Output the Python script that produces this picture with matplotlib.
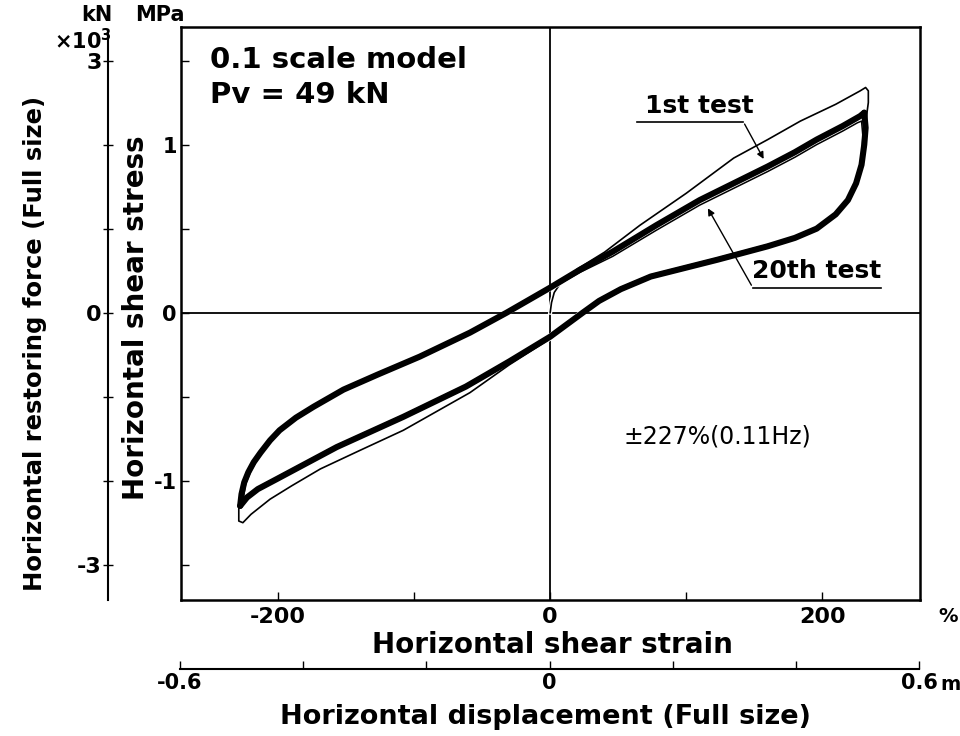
import matplotlib
matplotlib.use('Agg')
import matplotlib.pyplot as plt
import matplotlib.patheffects as pe

# ---------------- data (strain %, shear stress MPa) ----------------
# cycles forming the thick band (2nd ... 19th test)
band_up_strain = [-228, -227, -225, -222, -218, -213, -206, -199, -187, -174, -152, -127, -96, -59, -32, 0, 22, 46, 78, 110, 135, 160, 180, 196, 215, 228, 231]
band_up_stress = [-1.15, -1.08, -1.01, -0.95, -0.89, -0.833, -0.76, -0.70, -0.625, -0.56, -0.458, -0.369, -0.262, -0.119, 0.0, 0.149, 0.256, 0.363, 0.52, 0.67, 0.77, 0.87, 0.955, 1.03, 1.11, 1.17, 1.19]
band_lo_strain = [231, 232, 231, 229, 225, 219, 210, 196, 180, 160, 123, 74, 52, 36, 24, 0, -30, -62, -108, -157, -201, -215, -223, -228]
band_lo_stress = [1.19, 1.10, 1.0, 0.88, 0.77, 0.67, 0.585, 0.50, 0.445, 0.395, 0.315, 0.215, 0.14, 0.07, 0.0, -0.143, -0.29, -0.44, -0.62, -0.80, -0.99, -1.05, -1.10, -1.15]

# 1st test (virgin loading from origin, outer loop)
test1_strain = [0, 1, 3, 8, 20, 40, 66, 100, 135, 160, 184, 210, 228, 232, 234, 234, 233, 232, 231, 229, 225, 219, 210, 196, 180, 160, 123, 74, 52, 36, 24, 0, -30, -59, -108, -140, -169, -190, -206, -220, -226, -229, -229, -228, -227]
test1_stress = [0.0, 0.06, 0.12, 0.18, 0.26, 0.36, 0.52, 0.71, 0.92, 1.03, 1.14, 1.24, 1.32, 1.34, 1.32, 1.25, 1.19, 1.10, 1.0, 0.88, 0.77, 0.67, 0.585, 0.50, 0.445, 0.395, 0.315, 0.215, 0.14, 0.07, 0.0, -0.155, -0.31, -0.476, -0.70, -0.82, -0.93, -1.03, -1.11, -1.20, -1.25, -1.24, -1.17, -1.10, -1.05]

# 20th test
test20_strain = [-226, -224, -220, -213, -199, -174, -152, -127, -96, -59, -32, 0, 22, 46, 78, 110, 135, 160, 180, 196, 215, 226, 229, 230, 229, 226, 220, 211, 196, 180, 160, 123, 74, 52, 36, 24, 0, -30, -62, -108, -157, -201, -215, -223, -226]
test20_stress = [-1.12, -1.02, -0.94, -0.84, -0.70, -0.565, -0.465, -0.375, -0.268, -0.125, -0.005, 0.14, 0.24, 0.335, 0.49, 0.64, 0.74, 0.84, 0.925, 1.0, 1.08, 1.13, 1.14, 1.05, 0.90, 0.78, 0.68, 0.59, 0.51, 0.45, 0.405, 0.325, 0.225, 0.15, 0.08, 0.01, -0.135, -0.28, -0.43, -0.61, -0.79, -0.98, -1.04, -1.09, -1.12]

strain_ticks = [-200, -100, 0, 100, 200]
strain_labels = ['-200', '', '0', '', '200']
mpa_ticks = [-1.5, -1.0, -0.5, 0.0, 0.5, 1.0, 1.5]
mpa_labels = ['', '-1', '', '0', '', '1', '']
kn_ticks = [-3, -2, -1, 0, 1, 2, 3]
kn_labels = ['-3', '', '', '0', '', '', '3']
disp_ticks = [-0.6, -0.4, -0.2, 0.0, 0.2, 0.4, 0.6]
disp_labels = ['-0.6', '', '', '0', '', '', '0.6']

# ---------------- figure ----------------
plt.rcParams['font.family'] = ['DejaVu Sans']
plt.rcParams['font.weight'] = 'bold'
plt.rcParams['axes.unicode_minus'] = False

W, H = 960, 736
fig = plt.figure(figsize=(9.6, 7.36), dpi=100)
fig.patch.set_facecolor('white')

def fx(px):
    return px / W

def fy(py):
    return 1 - py / H

ax = fig.add_axes([fx(181), fy(600), (920 - 181) / W, (600 - 27) / H])
ax.set_xlim(-271.5, 272)
ax.set_ylim(-1.71, 1.70)
for s in ax.spines.values():
    s.set_linewidth(1.8)
ax.axhline(0, color='black', lw=1.3, zorder=1)
ax.axvline(0, color='black', lw=1.3, zorder=1)

ax.set_xticks(strain_ticks)
ax.set_xticklabels(strain_labels)
ax.set_yticks(mpa_ticks)
ax.set_yticklabels(mpa_labels)
ax.tick_params(axis='x', direction='in', length=6, width=1.0, labelsize=16, pad=5)
ax.tick_params(axis='y', direction='in', length=6, width=1.0, labelsize=15, pad=3)

# curves: thin tests first (with white halo), thick band on top
halo = [pe.Stroke(linewidth=3.0, foreground='white'), pe.Normal()]
ax.plot(test1_strain, test1_stress, color='black', lw=1.2, zorder=3, path_effects=halo)
ax.plot(test20_strain, test20_stress, color='black', lw=1.1, zorder=3, path_effects=halo)
ax.plot(band_up_strain, band_up_stress, color='black', lw=4.4, solid_capstyle='round', solid_joinstyle='round', zorder=4)
ax.plot(band_lo_strain, band_lo_stress, color='black', lw=4.4, solid_capstyle='round', solid_joinstyle='round', zorder=4)

# annotations
ax.plot([64, 142], [1.137, 1.137], color='black', lw=1.2, zorder=5)
ax.annotate('', xy=(158, 0.90), xytext=(142, 1.137),
            arrowprops=dict(arrowstyle='-|>', color='black', lw=1.0, mutation_scale=10), zorder=5)
ax.text(110, 1.23, '1st test', ha='center', va='center', fontsize=18, fontweight='bold')
ax.plot([149, 243], [0.149, 0.149], color='black', lw=1.2, zorder=5)
ax.annotate('', xy=(115, 0.635), xytext=(149, 0.149),
            arrowprops=dict(arrowstyle='-|>', color='black', lw=1.0, mutation_scale=10), zorder=5)
ax.text(196, 0.245, '20th test', ha='center', va='center', fontsize=18, fontweight='bold')
ax.text(123, -0.738, '±227%(0.11Hz)', ha='center', va='center', fontsize=17, fontweight='normal')

fig.text(fx(210), fy(60), '0.1 scale model', ha='left', va='center', fontsize=21, fontweight='bold')
fig.text(fx(210), fy(95), 'Pv = 49 kN', ha='left', va='center', fontsize=21, fontweight='bold')

# kN axis
ax2 = fig.add_axes([fx(108), fy(600), 0.0001, (600 - 32) / H])
ax2.set_ylim(-(600 - 313) / 168 * 2, (313 - 32) / 168 * 2)
ax2.set_xticks([])
for k in ['top', 'right', 'bottom']:
    ax2.spines[k].set_visible(False)
ax2.spines['left'].set_linewidth(1.5)
ax2.set_yticks(kn_ticks)
ax2.set_yticklabels(kn_labels)
ax2.tick_params(axis='y', direction='inout', length=7, width=1.0, labelsize=16, pad=1)
ax2.patch.set_visible(False)

# displacement axis
ax3 = fig.add_axes([fx(180), fy(669), (919 - 180) / W, 0.0001])
ax3.set_xlim(-0.6, 0.6)
ax3.set_yticks([])
for k in ['top', 'right', 'left']:
    ax3.spines[k].set_visible(False)
ax3.spines['bottom'].set_linewidth(1.5)
ax3.set_xticks(disp_ticks)
ax3.set_xticklabels(disp_labels)
ax3.tick_params(axis='x', direction='in', length=6, width=1.0, labelsize=15, pad=3)
ax3.patch.set_visible(False)

# axis titles / units
fig.text(fx(552), fy(645), 'Horizontal shear strain', ha='center', va='center', fontsize=20, fontweight='bold')
fig.text(fx(545), fy(717), 'Horizontal displacement (Full size)', ha='center', va='center', fontsize=19.5, fontweight='bold')
fig.text(fx(35), fy(343), 'Horizontal restoring force (Full size)', rotation=90, ha='center', va='center', fontsize=17.5, fontweight='bold')
fig.text(fx(136), fy(318), 'Horizontal shear stress', rotation=90, ha='center', va='center', fontsize=20, fontweight='bold')
fig.text(fx(97), fy(15), 'kN', ha='center', va='center', fontsize=15, fontweight='bold')
fig.text(fx(160), fy(15), 'MPa', ha='center', va='center', fontsize=15, fontweight='bold')
fig.text(fx(83), fy(41), '×10$^3$', ha='center', va='center', fontsize=15, fontweight='bold')
fig.text(fx(948), fy(616), '%', ha='center', va='center', fontsize=14, fontweight='bold')
fig.text(fx(950), fy(684), 'm', ha='center', va='center', fontsize=14, fontweight='bold')

fig.savefig('out.png', dpi=100, facecolor='white')
